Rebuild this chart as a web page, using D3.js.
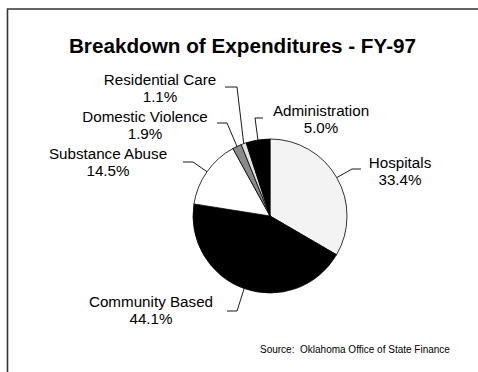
<!DOCTYPE html>
<html>
<head>
<meta charset="utf-8">
<script src="https://cdn.jsdelivr.net/npm/d3@7"></script>
<style>
  html, body { margin: 0; padding: 0; background: #fff; }
  svg { display: block; font-family: "Liberation Sans", Arial, sans-serif; }
</style>
</head>
<body>
<svg id="chart" width="478" height="372"></svg>
<script>
// Expenditure categories, clockwise from 12 o'clock
const categories = ["Hospitals", "Community Based", "Substance Abuse", "Domestic Violence", "Residential Care", "Administration"];
// Share of total expenditures (%)
const shares = [33.4, 44.1, 14.5, 1.9, 1.1, 5.0];
// Slice fills
const fills = ["#f3f3f3", "#000000", "#ffffff", "#8a8a8a", "#e2e2e2", "#000000"];

const titleText = "Breakdown of Expenditures - FY-97";
const sourceText = "Source:  Oklahoma Office of State Finance";

// Label layout: text centre, first baseline, and leader elbow / tail
const labelLayout = {
  "Hospitals":         { x: 400, y: 168, ex: 352, ey: 169, tx: 361 },
  "Community Based":   { x: 151, y: 307, ex: 237, ey: 311, tx: 227 },
  "Substance Abuse":   { x: 108, y: 159, ex: 193, ey: 162, tx: 183 },
  "Domestic Violence": { x: 145, y: 122, ex: 227, ey: 123, tx: 217 },
  "Residential Care":  { x: 160, y: 85,  ex: 237, ey: 87,  tx: 225 },
  "Administration":    { x: 321, y: 116, ex: 255, ey: 118, tx: 263 }
};

const svg = d3.select("#chart");
const cx = 270, cy = 216, radius = 77;

// Frame lines (top and left)
svg.append("path")
  .attr("d", "M7.5,372 L7.5,9 L478,9")
  .attr("fill", "none")
  .attr("stroke", "#333")
  .attr("stroke-width", 1.6);

// Title
svg.append("text")
  .attr("x", 242.5).attr("y", 53)
  .attr("text-anchor", "middle")
  .attr("font-weight", "bold")
  .attr("font-size", "20.7px")
  .attr("fill", "#000")
  .text(titleText);

const data = categories.map((c, i) => ({ name: c, value: shares[i] }));
const color = d3.scaleOrdinal().domain(categories).range(fills);

const pie = d3.pie().value(d => d.value).sort(null);
const arcs = pie(data);
const arc = d3.arc().innerRadius(0).outerRadius(radius);
const edge = d3.arc().innerRadius(radius).outerRadius(radius);

const g = svg.append("g").attr("transform", `translate(${cx},${cy})`);

g.selectAll("path.slice")
  .data(arcs)
  .join("path")
  .attr("class", "slice")
  .attr("d", arc)
  .attr("fill", d => color(d.data.name))
  .attr("stroke", "#000")
  .attr("stroke-width", 0.8)
  .attr("stroke-linejoin", "round");

// Leader lines: tail -> elbow -> slice edge at mid-angle
svg.selectAll("path.leader")
  .data(arcs)
  .join("path")
  .attr("class", "leader")
  .attr("fill", "none")
  .attr("stroke", "#000")
  .attr("stroke-width", 0.9)
  .attr("d", d => {
    const L = labelLayout[d.data.name];
    const [px, py] = edge.centroid(d);
    return `M${L.tx},${L.ey} L${L.ex},${L.ey} L${cx + px},${cy + py}`;
  });

// Labels: name and percentage
const labels = svg.selectAll("text.label")
  .data(arcs)
  .join("text")
  .attr("class", "label")
  .attr("text-anchor", "middle")
  .attr("font-size", "15.2px")
  .attr("fill", "#000");

labels.append("tspan")
  .attr("x", d => labelLayout[d.data.name].x)
  .attr("y", d => labelLayout[d.data.name].y)
  .text(d => d.data.name);

labels.append("tspan")
  .attr("x", d => labelLayout[d.data.name].x)
  .attr("y", d => labelLayout[d.data.name].y + 16.5)
  .text(d => d3.format(".1f")(d.data.value) + "%");

// Source note
svg.append("text")
  .attr("x", 260).attr("y", 353)
  .attr("font-size", "10px")
  .attr("fill", "#000")
  .attr("xml:space", "preserve")
  .style("white-space", "pre")
  .text(sourceText);
</script>
</body>
</html>
